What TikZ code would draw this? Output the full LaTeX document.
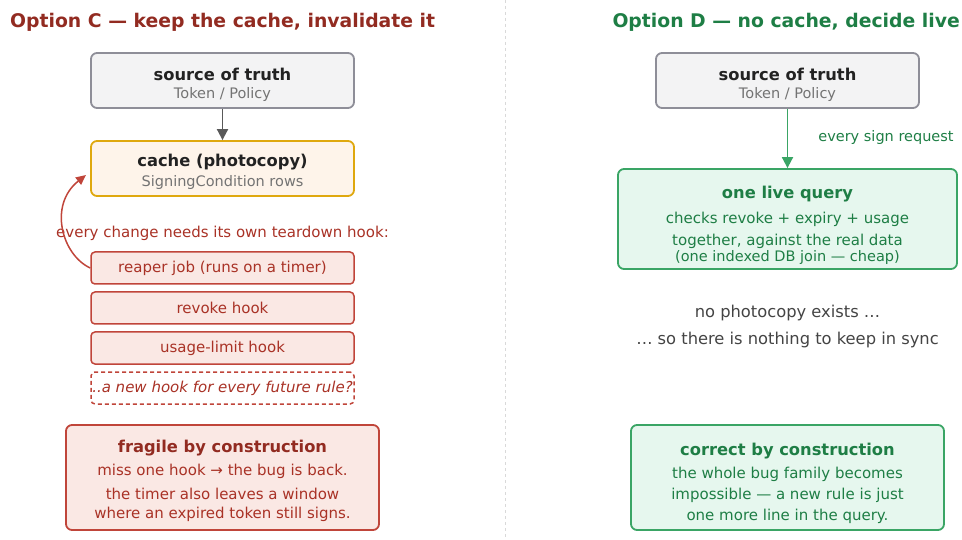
\documentclass[tikz,border=0pt]{standalone}
\usepackage{fontspec}
\setmainfont{DejaVu Sans}
\usetikzlibrary{arrows.meta}
\definecolor{cdark}{HTML}{922B21}
\definecolor{cred}{HTML}{A93226}
\definecolor{credline}{HTML}{C0453A}
\definecolor{credfill}{HTML}{FAE8E4}
\definecolor{gdark}{HTML}{1E7E45}
\definecolor{gline}{HTML}{3AA565}
\definecolor{gfill}{HTML}{E6F7EE}
\definecolor{grline}{HTML}{8E8E98}
\definecolor{grfill}{HTML}{F3F3F4}
\definecolor{grtext}{HTML}{737373}
\definecolor{gold}{HTML}{DFA80E}
\definecolor{goldfill}{HTML}{FEF4EA}
\definecolor{dark}{HTML}{222222}
\definecolor{midgray}{HTML}{444444}
\tikzset{
  box/.style={draw, rounded corners=6pt, line width=1.8pt, inner sep=0pt},
  srcbox/.style={box, draw=grline, fill=grfill},
  txt/.style={inner sep=0pt, anchor=center, yshift=-1.5pt},
  hookbox/.style={draw=credline, fill=credfill, rounded corners=4pt, line width=1.5pt, minimum width=263pt, minimum height=32pt, inner sep=0pt, text=cred, font=\fontsize{15}{17}\selectfont},
}
\begin{document}
\begin{tikzpicture}[x=1pt,y=-1pt]
\useasboundingbox (0,0) rectangle (962,540);
% divider
\draw[draw=black!15, line width=1pt, dash pattern=on 3pt off 3pt] (505,0) -- (505,540);

% ---------- Option C ----------
\node[txt, anchor=west, text=cdark, font=\fontsize{18.8}{21}\bfseries\selectfont] (titleC) at (10,21) {Option C — keep the cache, invalidate it};

\node[srcbox, minimum width=263pt, minimum height=55pt] (srcL) at (222.5,80.5) {};
\node[txt, text=dark, font=\fontsize{16.3}{18}\bfseries\selectfont] (srcLt) at (222.5,73) {source of truth};
\node[txt, text=grtext, font=\fontsize{14.5}{16}\selectfont] (srcLs) at (222.5,93) {Token / Policy};

\node[box, draw=gold, fill=goldfill, minimum width=263pt, minimum height=55pt] (cache) at (222.5,168.5) {};
\node[txt, text=dark, font=\fontsize{16.3}{18}\bfseries\selectfont] (cachet) at (222.5,161) {cache (photocopy)};
\node[txt, text=grtext, font=\fontsize{14.5}{16}\selectfont] (caches) at (222.5,181) {SigningCondition rows};

\draw[draw=black!65, line width=1.8pt, -{Triangle[length=11pt,width=11pt]}] (srcL.south) -- (cache.north);

\node[txt, text=cred, font=\fontsize{15}{17}\selectfont] (every) at (222.5,232) {every change needs its own teardown hook:};

\node[hookbox] (reaper) at (222.5,268) {reaper job (runs on a timer)};
\node[hookbox] (revoke) at (222.5,308) {revoke hook};
\node[hookbox] (usage) at (222.5,348) {usage-limit hook};
\node[hookbox, fill=white, dashed, dash pattern=on 4pt off 3pt, font=\fontsize{15}{17}\itshape\selectfont] (future) at (222.5,388) {..a new hook for every future rule?};

\coordinate (cacheIn) at (86,175);
\draw[draw=credline, line width=1.5pt, -{Triangle[length=10pt,width=9pt]}] (reaper.west) .. controls (62,255) and (48,205) .. (cacheIn);

\node[box, draw=credline, fill=credfill, minimum width=313pt, minimum height=105pt] (fragile) at (222.5,477.5) {};
\node[txt, text=cdark, font=\fontsize{16.3}{18}\bfseries\selectfont] (fragt) at (222.5,447) {fragile by construction};
\node[txt, text=cred, font=\fontsize{15}{17}\selectfont] (frag1) at (222.5,470) {miss one hook → the bug is back.};
\node[txt, text=cred, font=\fontsize{15}{17}\selectfont] (frag2) at (222.5,492) {the timer also leaves a window};
\node[txt, text=cred, font=\fontsize{15}{17}\selectfont] (frag3) at (222.5,513) {where an expired token still signs.};

% ---------- Option D ----------
\node[txt, anchor=east, text=gdark, font=\fontsize{18.8}{21}\bfseries\selectfont] (titleD) at (960,21) {Option D — no cache, decide live};

\node[srcbox, minimum width=263pt, minimum height=55pt] (srcR) at (787.5,80.5) {};
\node[txt, text=dark, font=\fontsize{16.3}{18}\bfseries\selectfont] (srcRt) at (787.5,73) {source of truth};
\node[txt, text=grtext, font=\fontsize{14.5}{16}\selectfont] (srcRs) at (787.5,93) {Token / Policy};

\node[box, draw=gline, fill=gfill, minimum width=339pt, minimum height=100pt] (live) at (787.5,219) {};
\node[txt, text=gdark, font=\fontsize{16.3}{18}\bfseries\selectfont] (livet) at (787.5,193) {one live query};
\node[txt, text=gdark, font=\fontsize{15}{17}\selectfont] (live1) at (787.5,218) {checks revoke + expiry + usage};
\node[txt, text=gdark, font=\fontsize{15}{17}\selectfont] (live2) at (787.5,240) {together, against the real data};
\node[txt, text=gdark, font=\fontsize{14.5}{16}\selectfont] (live3) at (787.5,256) {(one indexed DB join — cheap)};

\draw[draw=gline, line width=1.8pt, -{Triangle[length=11pt,width=11pt]}] (srcR.south) -- (live.north);
\node[txt, text=gdark, font=\fontsize{14.5}{16}\selectfont] (signreq) at (886,136) {every sign request};

\node[txt, text=midgray, font=\fontsize{16.3}{18}\selectfont] (nophoto) at (787.5,312) {no photocopy exists …};
\node[txt, text=midgray, font=\fontsize{16.3}{18}\selectfont] (nothing) at (787.5,339) {… so there is nothing to keep in sync};

\node[box, draw=gline, fill=gfill, minimum width=313pt, minimum height=105pt] (correct) at (787.5,477.5) {};
\node[txt, text=gdark, font=\fontsize{16.3}{18}\bfseries\selectfont] (corrt) at (787.5,450) {correct by construction};
\node[txt, text=gdark, font=\fontsize{15}{17}\selectfont] (corr1) at (787.5,473) {the whole bug family becomes};
\node[txt, text=gdark, font=\fontsize{15}{17}\selectfont] (corr2) at (787.5,494) {impossible — a new rule is just};
\node[txt, text=gdark, font=\fontsize{15}{17}\selectfont] (corr3) at (787.5,515) {one more line in the query.};
\end{tikzpicture}
\end{document}
